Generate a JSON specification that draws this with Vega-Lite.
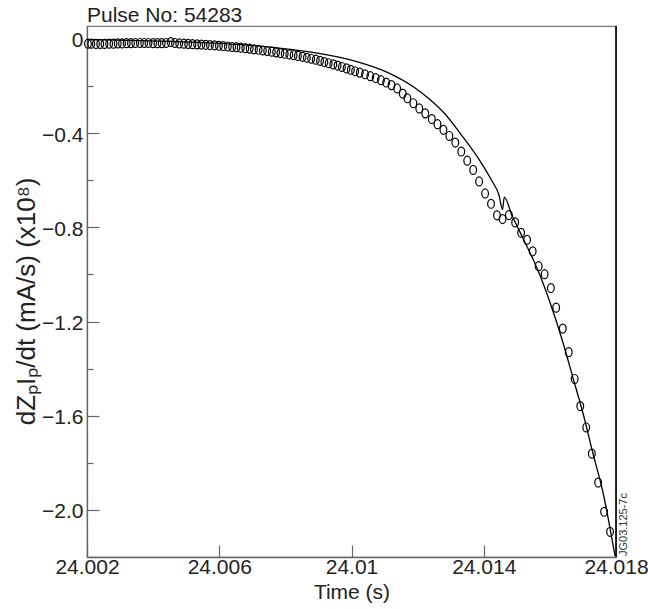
{
  "$schema": "https://vega.github.io/schema/vega-lite/v6.json",
  "width": 529,
  "height": 531,
  "autosize": "none",
  "padding": {"left": 87, "top": 26, "right": 32, "bottom": 52},
  "background": "white",
  "title": {"text": "Pulse No: 54283", "anchor": "start", "frame": "group", "fontSize": 21, "font": "Liberation Sans", "fontWeight": "normal", "color": "#222", "offset": 3, "baseline": "alphabetic", "dy": 21},
  "config": {
    "font": "Liberation Sans",
    "view": {"stroke": "#777", "strokeWidth": 1.2},
    "axis": {"grid": false, "domainColor": "#666", "domainWidth": 1.3, "tickColor": "#666", "tickWidth": 1.2, "labelColor": "#222", "labelFontSize": 21, "titleColor": "#222", "titleFontSize": 21, "titleFontWeight": "normal", "labelFlush": false, "labelOverlap": false}
  },
  "datasets": {
    "pts": [
      {"t":24.00203,"v":-0.020},{"t":24.00213,"v":-0.020},{"t":24.00227,"v":-0.021},{"t":24.00240,"v":-0.021},{"t":24.00253,"v":-0.021},
      {"t":24.00267,"v":-0.020},{"t":24.00280,"v":-0.020},{"t":24.00293,"v":-0.019},{"t":24.00306,"v":-0.019},{"t":24.00320,"v":-0.018},
      {"t":24.00333,"v":-0.018},{"t":24.00346,"v":-0.017},{"t":24.00360,"v":-0.017},{"t":24.00373,"v":-0.017},{"t":24.00386,"v":-0.017},
      {"t":24.00400,"v":-0.018},{"t":24.00413,"v":-0.018},{"t":24.00426,"v":-0.018},{"t":24.00439,"v":-0.017},{"t":24.00453,"v":-0.013},
      {"t":24.00466,"v":-0.017},{"t":24.00479,"v":-0.019},{"t":24.00493,"v":-0.020},{"t":24.00506,"v":-0.021},{"t":24.00519,"v":-0.022},
      {"t":24.00533,"v":-0.023},{"t":24.00546,"v":-0.024},{"t":24.00559,"v":-0.025},{"t":24.00572,"v":-0.026},{"t":24.00586,"v":-0.027},
      {"t":24.00599,"v":-0.029},{"t":24.00612,"v":-0.030},{"t":24.00626,"v":-0.032},{"t":24.00639,"v":-0.034},{"t":24.00652,"v":-0.035},
      {"t":24.00665,"v":-0.037},{"t":24.00679,"v":-0.039},{"t":24.00692,"v":-0.041},{"t":24.00705,"v":-0.044},{"t":24.00719,"v":-0.046},
      {"t":24.00732,"v":-0.049},{"t":24.00745,"v":-0.051},{"t":24.00759,"v":-0.054},{"t":24.00772,"v":-0.057},{"t":24.00785,"v":-0.060},
      {"t":24.00798,"v":-0.063},{"t":24.00812,"v":-0.066},{"t":24.00825,"v":-0.069},{"t":24.00838,"v":-0.072},{"t":24.00852,"v":-0.076},
      {"t":24.00865,"v":-0.080},{"t":24.00878,"v":-0.084},{"t":24.00892,"v":-0.088},{"t":24.00905,"v":-0.093},{"t":24.00918,"v":-0.098},
      {"t":24.00931,"v":-0.103},{"t":24.00945,"v":-0.108},{"t":24.00958,"v":-0.113},{"t":24.00971,"v":-0.119},{"t":24.00985,"v":-0.125},
      {"t":24.00998,"v":-0.131},{"t":24.01011,"v":-0.137},{"t":24.01025,"v":-0.143},{"t":24.01041,"v":-0.150},{"t":24.01057,"v":-0.158},
      {"t":24.01073,"v":-0.166},{"t":24.01089,"v":-0.175},{"t":24.01105,"v":-0.185},{"t":24.01121,"v":-0.196},{"t":24.01138,"v":-0.210},
      {"t":24.01155,"v":-0.232},{"t":24.01169,"v":-0.252},{"t":24.01187,"v":-0.273},{"t":24.01205,"v":-0.295},{"t":24.01223,"v":-0.316},
      {"t":24.01243,"v":-0.340},{"t":24.01260,"v":-0.362},{"t":24.01278,"v":-0.386},{"t":24.01296,"v":-0.412},{"t":24.01314,"v":-0.440},
      {"t":24.01332,"v":-0.478},{"t":24.01350,"v":-0.517},{"t":24.01368,"v":-0.556},{"t":24.01386,"v":-0.605},{"t":24.01404,"v":-0.656},
      {"t":24.01422,"v":-0.700},{"t":24.01440,"v":-0.749},{"t":24.01457,"v":-0.765},{"t":24.01476,"v":-0.748},{"t":24.01495,"v":-0.779},
      {"t":24.01513,"v":-0.823},{"t":24.01531,"v":-0.853},{"t":24.01548,"v":-0.902},{"t":24.01566,"v":-0.965},{"t":24.01584,"v":-0.999},
      {"t":24.01603,"v":-1.058},{"t":24.01619,"v":-1.141},{"t":24.01639,"v":-1.230},{"t":24.01657,"v":-1.330},{"t":24.01675,"v":-1.444},
      {"t":24.01692,"v":-1.559},{"t":24.01710,"v":-1.650},{"t":24.01727,"v":-1.761},{"t":24.01746,"v":-1.884},{"t":24.01764,"v":-2.008},
      {"t":24.01782,"v":-2.093}
    ],
    "mdl": [
      {"t":24.00200,"v":-0.0025},{"t":24.00330,"v":-0.0059},{"t":24.00451,"v":-0.0102},{"t":24.00572,"v":-0.0166},{"t":24.00693,"v":-0.0272},
      {"t":24.00814,"v":-0.0442},{"t":24.00905,"v":-0.0620},{"t":24.01005,"v":-0.0917},{"t":24.01107,"v":-0.1406},{"t":24.01186,"v":-0.2021},
      {"t":24.01237,"v":-0.2573},{"t":24.01283,"v":-0.3189},{"t":24.01328,"v":-0.3996},{"t":24.01389,"v":-0.5185},{"t":24.01425,"v":-0.6034},
      {"t":24.01446,"v":-0.6628},{"t":24.01457,"v":-0.7244},{"t":24.01462,"v":-0.6713},{"t":24.01485,"v":-0.7478},{"t":24.01519,"v":-0.8475},
      {"t":24.01561,"v":-0.9728},{"t":24.01600,"v":-1.1172},{"t":24.01640,"v":-1.2913},{"t":24.01670,"v":-1.4399},{"t":24.01700,"v":-1.5885},
      {"t":24.01730,"v":-1.7584},{"t":24.01761,"v":-1.9282},{"t":24.01797,"v":-2.1958}
    ],
    "edge": [{"t": 24.018, "v": -2.2, "label": "JG03.125-7c"}]
  },
  "resolve": {"axis": {"y": "independent"}},
  "layer": [
    {
      "data": {"name": "pts"},
      "mark": {"type": "point", "shape": "M 0.75 0 C 0.75 0.552 0.414 1 0 1 C -0.414 1 -0.75 0.552 -0.75 0 C -0.75 -0.552 -0.414 -1 0 -1 C 0.414 -1 0.75 -0.552 0.75 0 Z", "filled": false, "stroke": "black", "strokeWidth": 1.2, "size": 80, "opacity": 1},
      "encoding": {
        "x": {"field": "t", "type": "quantitative", "scale": {"domain": [24.002, 24.018], "nice": false, "zero": false},
              "axis": {"values": [24.002, 24.006, 24.01, 24.014, 24.018], "format": ".3~f", "tickSize": -12, "labelPadding": 11, "title": "Time (s)", "titlePadding": 4}},
        "y": {"field": "v", "type": "quantitative", "scale": {"domain": [-2.2, 0.055], "nice": false, "zero": false},
              "axis": {"orient": "left", "values": [0, -0.4, -0.8, -1.2, -1.6, -2.0], "labelExpr": "datum.value == 0 ? '0' : format(datum.value, '.1f')", "tickSize": -12, "labelPadding": 16, "labelOffset": 2, "title": "dZₚIₚ/dt (mA/s) (x10⁸)", "titleFontSize": 26, "titlePadding": 2, "titleY": 275}}
      }
    },
    {
      "data": {"name": "mdl"},
      "mark": {"type": "line", "color": "black", "strokeWidth": 1.3, "interpolate": "monotone"},
      "encoding": {
        "x": {"field": "t", "type": "quantitative"},
        "y": {"field": "v", "type": "quantitative",
              "axis": {"orient": "left", "values": [-0.2, -0.6, -1.0, -1.4, -1.8], "labels": false, "domain": false, "tickSize": -6, "title": null}}
      }
    },
    {
      "data": {"name": "edge"},
      "mark": {"type": "rule", "color": "black", "strokeWidth": 1.6},
      "encoding": {"x": {"field": "t", "type": "quantitative"}}
    },
    {
      "data": {"name": "edge"},
      "mark": {"type": "text", "angle": 270, "align": "left", "baseline": "top", "dx": 1, "dy": 2, "fontSize": 11, "color": "#333"},
      "encoding": {
        "x": {"field": "t", "type": "quantitative"},
        "y": {"field": "v", "type": "quantitative", "axis": null},
        "text": {"field": "label"}
      }
    }
  ]
}
